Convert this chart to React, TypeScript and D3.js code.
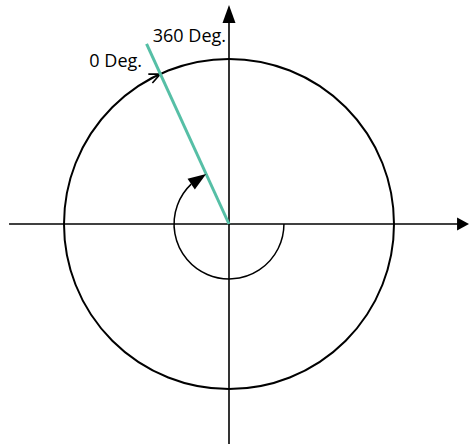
import React from "react";
import * as d3 from "d3";

// angle of the reference ray, in degrees (math convention, counter-clockwise from +x)
const rayAngles = [114.6];
// radii in units of the main circle
const circleRadii = [1];
const sweepRadii = [0.333];
const rayLengths = [1.2];
// sweep arc: from 0 deg clockwise round to the ray
const sweepEnds = [133.5];
const labels = ["360 Deg.", "0 Deg."];
// axis extents in circle units: [min, max]
const xExtent = [-1.333, 1.455];
const yExtent = [-1.333, 1.327];

const W = 469;
const H = 446;
const cx = 229;
const cy = 224;
const R = 165;

export default function App() {
  const r = d3.scaleLinear().domain([0, 1]).range([0, R]);
  const x = d3.scaleLinear().domain([0, 1]).range([cx, cx + R]);
  const y = d3.scaleLinear().domain([0, 1]).range([cy, cy - R]);
  const rad = (deg: number) => (deg * Math.PI) / 180;

  const theta = rad(rayAngles[0]);
  const ux = Math.cos(theta);
  const uy = Math.sin(theta);

  // main circle
  const circle = d3.path();
  circle.arc(cx, cy, r(circleRadii[0]), 0, Math.PI * 2);

  // small sweep arc (screen angles run clockwise)
  const sweepR = r(sweepRadii[0]);
  const sweep = d3.path();
  sweep.arc(cx, cy, sweepR, 0, rad(360 - sweepEnds[0]), false);

  // filled arrowhead on the sweep arc, tip on the ray
  const tip: [number, number] = [x(sweepRadii[0] * ux), y(sweepRadii[0] * uy)];
  const baseA = rad(sweepEnds[0]);
  const baseMid: [number, number] = [
    x(sweepRadii[0] * Math.cos(baseA)),
    y(sweepRadii[0] * Math.sin(baseA)),
  ];
  let dx = tip[0] - baseMid[0];
  let dy = tip[1] - baseMid[1];
  const len = Math.hypot(dx, dy);
  dx /= len;
  dy /= len;
  const hw = 6.5;
  const head = [
    tip,
    [baseMid[0] - dy * hw, baseMid[1] + dx * hw],
    [baseMid[0] + dy * hw, baseMid[1] - dx * hw],
  ] as [number, number][];

  // open chevron where the ray meets the circle
  const cTip: [number, number] = [x(ux), y(uy)];
  const tdx = uy; // clockwise tangent on screen
  const tdy = ux;
  const armL = 12;
  const spread = rad(24);
  const arm = (s: number): [number, number] => {
    const a = Math.atan2(-tdy, -tdx) + s * spread;
    return [cTip[0] + armL * Math.cos(a), cTip[1] + armL * Math.sin(a)];
  };
  const chevron = d3.line()([arm(1), cTip, arm(-1)]);

  const tri = (pts: [number, number][]) => d3.line()(pts) + "Z";

  const xr = x(xExtent[1]);
  const yt = y(yExtent[1]);

  return (
    <svg
      width={W}
      height={H}
      style={{ position: "absolute", left: 0, top: 0, background: "#fff" }}
      fontFamily="'Open Sans', sans-serif"
    >
      {/* axes */}
      <line x1={x(xExtent[0])} y1={cy} x2={xr - 10} y2={cy} stroke="#000" strokeWidth={1.6} />
      <path d={tri([[xr, cy], [xr - 12, cy - 6.5], [xr - 12, cy + 6.5]])} fill="#000" />
      <line x1={cx} y1={y(yExtent[0])} x2={cx} y2={yt + 10} stroke="#000" strokeWidth={1.6} />
      <path d={tri([[cx, yt], [cx - 6.5, yt + 18], [cx + 6.5, yt + 18]])} fill="#000" />

      {/* main circle */}
      <path d={circle.toString()} fill="none" stroke="#000" strokeWidth={2} />
      <path d={chevron!} fill="none" stroke="#000" strokeWidth={1.6} />

      {/* reference ray */}
      <line
        x1={cx}
        y1={cy}
        x2={x(rayLengths[0] * ux)}
        y2={y(rayLengths[0] * uy)}
        stroke="#56BFA6"
        strokeWidth={3}
      />

      {/* sweep arc */}
      <path d={sweep.toString()} fill="none" stroke="#000" strokeWidth={1.5} />
      <path d={tri(head)} fill="#000" />

      <text x={226} y={42} fontSize={18} textAnchor="end" fill="#000">
        {labels[0]}
      </text>
      <text x={142} y={67} fontSize={18} textAnchor="end" fill="#000">
        {labels[1]}
      </text>
    </svg>
  );
}
